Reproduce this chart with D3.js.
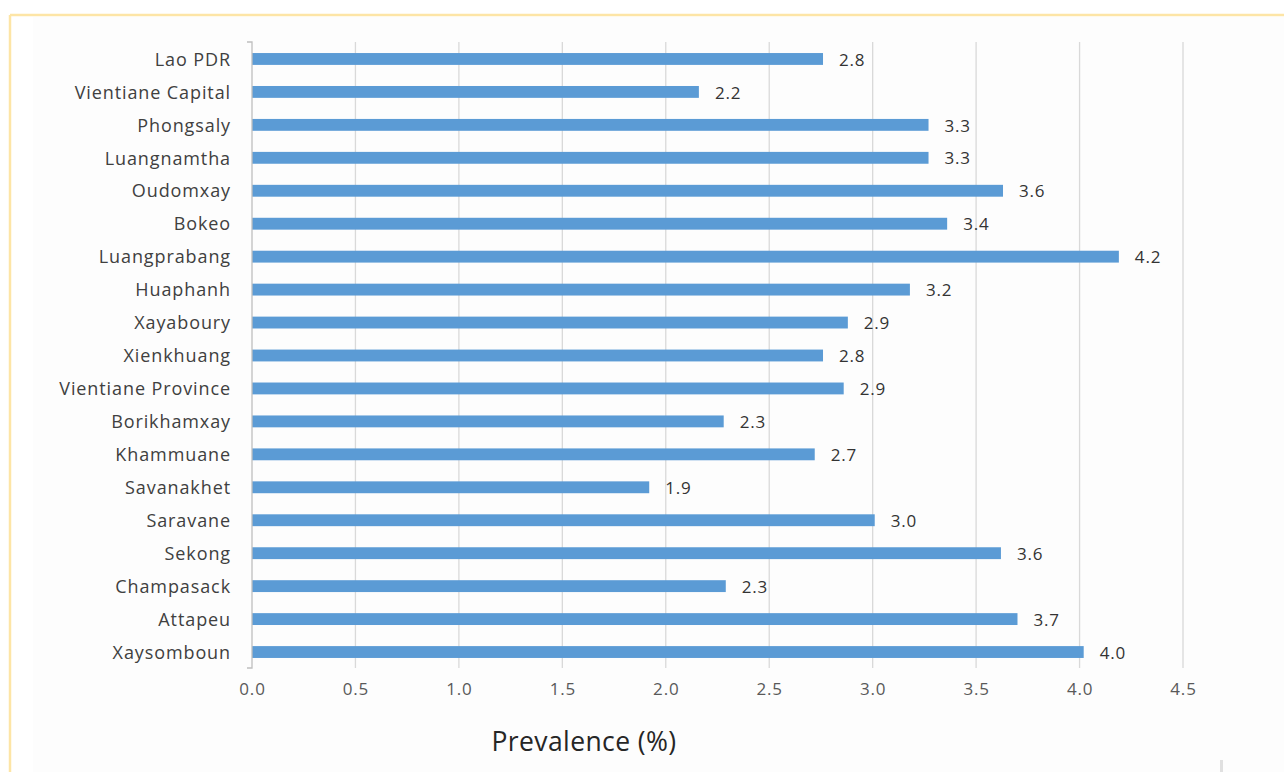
<!DOCTYPE html>
<html><head><meta charset="utf-8">
<script src="https://cdn.jsdelivr.net/npm/d3@7"></script>
<style>body{margin:0;background:#fff}svg{display:block}</style>
</head><body>
<svg id="c" width="1284" height="772"></svg>
<script>
const categories = ["Lao PDR","Vientiane Capital","Phongsaly","Luangnamtha","Oudomxay","Bokeo","Luangprabang","Huaphanh","Xayaboury","Xienkhuang","Vientiane Province","Borikhamxay","Khammuane","Savanakhet","Saravane","Sekong","Champasack","Attapeu","Xaysomboun"];
const prevalence = [2.76,2.16,3.27,3.27,3.63,3.36,4.19,3.18,2.88,2.76,2.86,2.28,2.72,1.92,3.01,3.62,2.29,3.70,4.02];
const xTicks = [0,0.5,1,1.5,2,2.5,3,3.5,4,4.5];
const axisTitle = "Prevalence (%)";

const svg = d3.select("#c");
const font = "'Open Sans', 'Liberation Sans', sans-serif";

// frame
svg.append("rect").attr("x",33).attr("y",17).attr("width",1251).attr("height",755).attr("fill","#fdfdfd");
svg.append("line").attr("x1",10).attr("x2",1284).attr("y1",15).attr("y2",15).attr("stroke","#fde5a6").attr("stroke-width",2.5);
svg.append("line").attr("x1",10).attr("x2",10).attr("y1",15).attr("y2",772).attr("stroke","#fde5a6").attr("stroke-width",2.5);

const x = d3.scaleLinear().domain([0,4.5]).range([252,1183]);
const y = d3.scaleBand().domain(categories).range([42,668]).paddingInner(0.64).paddingOuter(0.32);

// gridlines
svg.append("g").selectAll("line").data(xTicks.slice(1)).join("line")
  .attr("x1",d=>x(d)).attr("x2",d=>x(d)).attr("y1",42).attr("y2",668)
  .attr("stroke","#d9d9d9").attr("stroke-width",1.3);

// bars
svg.append("g").selectAll("rect").data(categories).join("rect")
  .attr("x",x(0)).attr("y",(d)=>y(d)+0.5).attr("height",y.bandwidth())
  .attr("width",(d,i)=>x(prevalence[i])-x(0)).attr("fill","#5b9bd5");

// y axis
const ya = d3.axisLeft(y).tickSize(0).tickPadding(21);
const yg = svg.append("g").attr("transform",`translate(${x(0)},0)`).call(ya);
yg.select(".domain").attr("stroke","#bfbfbf").attr("stroke-width",1.3).attr("d","M-5,42H0V668H-5");
yg.selectAll("text").attr("font-family",font).attr("font-size",18).attr("letter-spacing","0.9px").attr("fill","#404040").attr("dy","0.4em");

// x axis labels
const xa = d3.axisBottom(x).tickValues(xTicks).tickFormat(d3.format(".1f")).tickSize(0).tickPadding(0);
const xg = svg.append("g").attr("transform","translate(0,683)").call(xa);
xg.select(".domain").remove();
xg.selectAll("text").attr("font-family",font).attr("font-size",17).attr("letter-spacing","0.8px").attr("fill","#595959");

// data labels
svg.append("g").selectAll("text").data(categories).join("text")
  .attr("x",(d,i)=>x(prevalence[i])+16).attr("y",d=>y(d)+y.bandwidth()/2)
  .attr("dy","0.42em").attr("font-family",font).attr("font-size",17).attr("letter-spacing","0.8px").attr("fill","#333333")
  .text((d,i)=>d3.format(".1f")(prevalence[i]));

// axis title
svg.append("text").attr("x",584).attr("y",751).attr("text-anchor","middle")
  .attr("font-family",font).attr("font-size",26.5).attr("letter-spacing","0.4px").attr("fill","#262626").text(axisTitle);

// scan artifact
svg.append("rect").attr("x",1220).attr("y",760).attr("width",3).attr("height",12).attr("fill","#e0e0e0");
</script>
</body></html>
